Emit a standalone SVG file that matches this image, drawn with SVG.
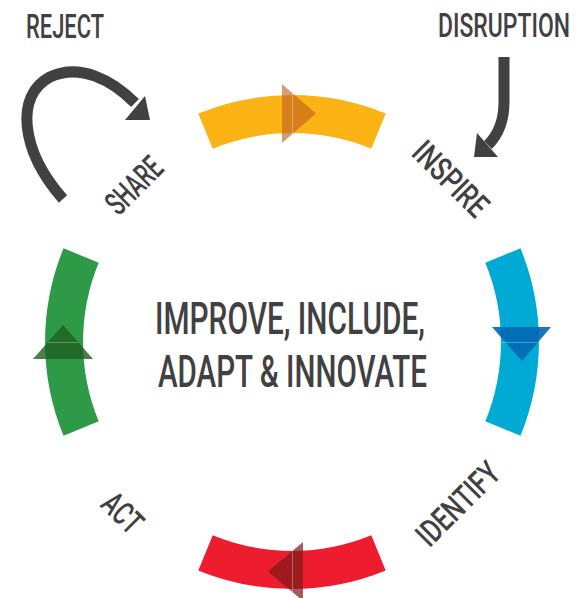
<svg xmlns="http://www.w3.org/2000/svg" width="584" height="598" viewBox="0 0 584 598">
<style>
.arc{fill:none;stroke-width:38;stroke-linecap:butt}
.lbl{font-family:"Roboto","Liberation Sans",sans-serif;font-size:33px;font-weight:500;fill:#414042}
.main{font-family:"Roboto","Liberation Sans",sans-serif;font-size:45px;font-weight:500;fill:#414042}
.conn{fill:none;stroke:#414042;stroke-width:11}
.head{fill:#414042}
.seam{stroke:#ffffff;stroke-opacity:0.3;stroke-width:1}
</style>
<rect width="584" height="598" fill="#ffffff"/>
<g id="cycle">
  <g id="inspire-arc">
    <path class="arc" stroke="#FBB316" d="M 205.5 131.1 A 228 228 0 0 1 378.5 131.1"/>
    <polygon points="282,84 282,143 316,113.5" fill="#C0601E" fill-opacity="0.62"/>
    <line class="seam" x1="292.5" y1="90" x2="292.5" y2="137"/>
  </g>
  <g id="identify-arc">
    <path class="arc" stroke="#00AAD4" d="M 502.9 255.5 A 228 228 0 0 1 502.9 428.5"/>
    <polygon points="492,327 551,327 522,361" fill="#0068B4" fill-opacity="0.9"/>
    <line class="seam" x1="497" y1="342.5" x2="546" y2="342.5"/>
  </g>
  <g id="act-arc">
    <path class="arc" stroke="#ED1C2E" d="M 378.5 552.9 A 228 228 0 0 1 205.5 552.9"/>
    <polygon points="303,542 303,601 268,571.5" fill="#7A1A1A" fill-opacity="0.7"/>
    <line class="seam" x1="292.5" y1="550" x2="292.5" y2="593"/>
  </g>
  <g id="share-arc">
    <path class="arc" stroke="#2E9A47" d="M 81.1 428.5 A 228 228 0 0 1 81.1 255.5"/>
    <polygon points="33,359 93,359 63,325" fill="#1F5E1F" fill-opacity="0.8"/>
    <line class="seam" x1="48" y1="342.5" x2="78" y2="342.5"/>
  </g>
</g>
<g id="center">
  <text class="main" x="155" y="334" textLength="270" lengthAdjust="spacingAndGlyphs">IMPROVE, INCLUDE,</text>
  <text class="main" x="158" y="387" textLength="269" lengthAdjust="spacingAndGlyphs">ADAPT &amp; INNOVATE</text>
</g>
<g id="reject"><text class="lbl" x="26" y="38" textLength="78" lengthAdjust="spacingAndGlyphs">REJECT</text></g>
<g id="disruption"><text class="lbl" transform="translate(438,37) scale(1,1.6)" x="0" y="0" style="font-size:20.6px" textLength="132" lengthAdjust="spacingAndGlyphs">DISRUPTION</text></g>
<g id="share"><text class="lbl" transform="translate(133.5,185) rotate(-45)" x="0" y="12" text-anchor="middle" textLength="66" lengthAdjust="spacingAndGlyphs">SHARE</text></g>
<g id="inspire"><text class="lbl" transform="translate(451,178.5) rotate(45)" x="0" y="12" text-anchor="middle" textLength="92" lengthAdjust="spacingAndGlyphs">INSPIRE</text></g>
<g id="identify"><text class="lbl" transform="translate(457.5,503.5) rotate(-45)" x="0" y="12" text-anchor="middle" textLength="103" lengthAdjust="spacingAndGlyphs">IDENTIFY</text></g>
<g id="act"><text class="lbl" transform="translate(123,512.5) rotate(45)" x="0" y="12" text-anchor="middle" textLength="43" lengthAdjust="spacingAndGlyphs">ACT</text></g>
<g id="connectors">
  <path class="conn" d="M 63 199 C 20 150, 15 95, 50 77 C 80 63, 112 80, 135 103"/>
  <polygon class="head" points="125,120 145,96 150,120"/>
  <path class="conn" d="M 504 57 L 504 102 C 504 122, 498 135, 488 145"/>
  <polygon class="head" points="477,133 498,157 474,157"/>
</g>
</svg>
